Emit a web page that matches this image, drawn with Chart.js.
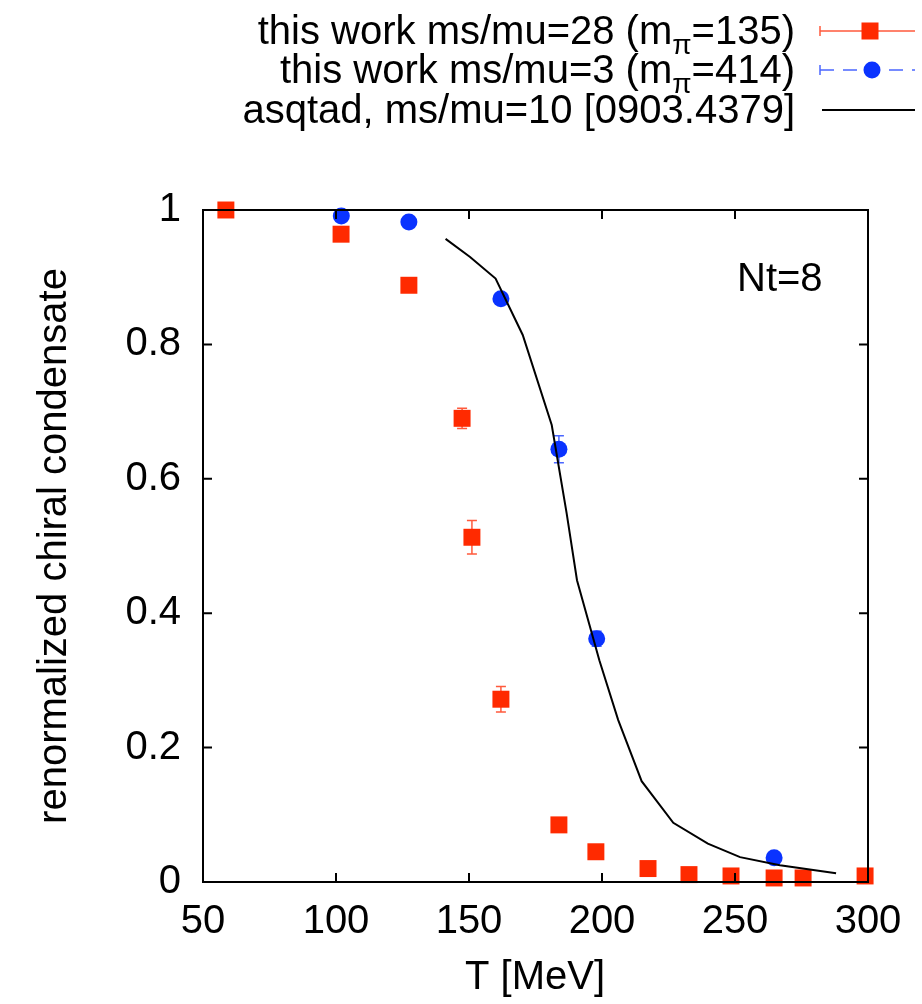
<!DOCTYPE html>
<html>
<head>
<meta charset="utf-8">
<script src="https://cdn.jsdelivr.net/npm/chart.js@4.4.1/dist/chart.umd.min.js"></script>
<style>
  html, body { margin: 0; padding: 0; background: #fff; }
  canvas { display: block; }
</style>
</head>
<body>
<canvas id="c" width="922" height="1004"></canvas>
<script>
// ms/mu=28 (m_pi=135)
const redT = [58.6, 101.9, 127.4, 147.4, 151.1, 162.0, 183.8, 197.7, 217.3, 232.7, 248.5, 264.7, 275.6, 298.9];
const redY = [1.0, 0.964, 0.888, 0.690, 0.513, 0.272, 0.085, 0.045, 0.020, 0.011, 0.009, 0.006, 0.006, 0.009];
const redErr = [0.002, 0.004, 0.004, 0.015, 0.025, 0.019, 0.004, 0.004, 0.003, 0.002, 0.002, 0.002, 0.002, 0.002];

// ms/mu=3 (m_pi=414)
const blueT = [102.0, 127.4, 162.0, 183.8, 198.0, 264.7];
const blueY = [0.991, 0.982, 0.868, 0.644, 0.362, 0.036];
const blueErr = [0.003, 0.003, 0.005, 0.020, 0.011, 0.003];

// asqtad, ms/mu=10
const asqtadT = [141.2, 150.4, 160.0, 170.2, 181.1, 186.7, 190.6, 199.0, 206.1, 214.9, 226.8, 239.8, 251.9, 266.9, 288.0];
const asqtadY = [0.957, 0.930, 0.898, 0.814, 0.680, 0.549, 0.449, 0.330, 0.241, 0.150, 0.088, 0.057, 0.037, 0.025, 0.013];

const legendLabels = [
  [['this work ms/mu=28 (m', false], ['π', true], ['=135)', false]],
  [['this work ms/mu=3 (m', false], ['π', true], ['=414)', false]],
  [['asqtad, ms/mu=10 [0903.4379]', false]]
];

const RED = '#ff2a00';
const BLUE = '#0a33ff';
const FONT = '"Liberation Sans", Arial, Helvetica, sans-serif';

Chart.defaults.font.family = FONT;
Chart.defaults.color = '#000';

function pts(xs, ys) {
  return xs.map((x, i) => ({ x: x, y: ys[i] }));
}

// text with optional subscript parts, right aligned at x
function drawRich(ctx, parts, xRight, y, size) {
  const subSize = size * 0.7;
  let total = 0;
  parts.forEach(p => {
    ctx.font = (p[1] ? subSize : size) + 'px ' + FONT;
    total += ctx.measureText(p[0]).width;
  });
  let x = xRight - total;
  ctx.textAlign = 'left';
  ctx.textBaseline = 'alphabetic';
  parts.forEach(p => {
    ctx.font = (p[1] ? subSize : size) + 'px ' + FONT;
    ctx.fillText(p[0], x, p[1] ? y + 10 : y);
    x += ctx.measureText(p[0]).width;
  });
}

const decor = {
  id: 'decor',
  beforeDatasetsDraw(chart) {
    const ctx = chart.ctx;
    const xs = chart.scales.x, ys = chart.scales.y;
    ctx.save();
    ctx.lineWidth = 1.5;
    const sets = [[redT, redY, redErr, '#ff5a3c'], [blueT, blueY, blueErr, '#4a66ff']];
    sets.forEach(s => {
      ctx.strokeStyle = s[3];
      s[0].forEach((t, i) => {
        const px = xs.getPixelForValue(t);
        const y1 = ys.getPixelForValue(s[1][i] + s[2][i]);
        const y2 = ys.getPixelForValue(s[1][i] - s[2][i]);
        ctx.beginPath();
        ctx.moveTo(px, y1); ctx.lineTo(px, y2);
        ctx.moveTo(px - 5, y1); ctx.lineTo(px + 5, y1);
        ctx.moveTo(px - 5, y2); ctx.lineTo(px + 5, y2);
        ctx.stroke();
      });
    });
    ctx.restore();
  },
  afterDraw(chart) {
    const ctx = chart.ctx;
    const a = chart.chartArea;
    const xs = chart.scales.x, ys = chart.scales.y;
    ctx.save();

    // frame and inward ticks
    ctx.strokeStyle = '#000';
    ctx.lineWidth = 2;
    ctx.strokeRect(a.left, a.top, a.right - a.left, a.bottom - a.top);
    ctx.beginPath();
    xs.ticks.forEach(t => {
      const px = xs.getPixelForValue(t.value);
      ctx.moveTo(px, a.bottom); ctx.lineTo(px, a.bottom - 9);
      ctx.moveTo(px, a.top); ctx.lineTo(px, a.top + 9);
    });
    ys.ticks.forEach(t => {
      const py = ys.getPixelForValue(t.value);
      ctx.moveTo(a.left, py); ctx.lineTo(a.left + 9, py);
      ctx.moveTo(a.right, py); ctx.lineTo(a.right - 9, py);
    });
    ctx.stroke();

    // axis titles
    ctx.fillStyle = '#000';
    ctx.font = '40px ' + FONT;
    ctx.textAlign = 'center';
    ctx.textBaseline = 'middle';
    ctx.fillText('T [MeV]', 535, 978);
    ctx.save();
    ctx.translate(55, 546);
    ctx.rotate(-Math.PI / 2);
    ctx.fillText('renormalized chiral condensate', 0, 0);
    ctx.restore();

    ctx.textAlign = 'left';
    ctx.fillText('Nt=8', 737, 280);

    // legend
    const rows = [31, 70, 110];
    rows.forEach((ry, i) => drawRich(ctx, legendLabels[i], 795, ry + 13, 40));

    // row 1: red errorbar sample
    ctx.lineWidth = 1.5;
    ctx.strokeStyle = '#ff5a3c';
    ctx.beginPath();
    ctx.moveTo(820, rows[0]); ctx.lineTo(915, rows[0]);
    ctx.moveTo(820, rows[0] - 5); ctx.lineTo(820, rows[0] + 5);
    ctx.stroke();
    ctx.fillStyle = RED;
    ctx.fillRect(870 - 8.5, rows[0] - 8.5, 17, 17);

    // row 2: blue dashed sample
    ctx.strokeStyle = '#4a66ff';
    ctx.beginPath();
    ctx.moveTo(820, rows[1] - 5); ctx.lineTo(820, rows[1] + 5);
    ctx.stroke();
    ctx.setLineDash([14, 9]);
    ctx.beginPath();
    ctx.moveTo(820, rows[1]); ctx.lineTo(915, rows[1]);
    ctx.stroke();
    ctx.setLineDash([]);
    ctx.fillStyle = BLUE;
    ctx.beginPath();
    ctx.arc(872, rows[1], 8.5, 0, Math.PI * 2);
    ctx.fill();

    // row 3: black line
    ctx.strokeStyle = '#000';
    ctx.lineWidth = 2;
    ctx.beginPath();
    ctx.moveTo(822, rows[2]); ctx.lineTo(915, rows[2]);
    ctx.stroke();

    ctx.restore();
  }
};

new Chart(document.getElementById('c'), {
  type: 'scatter',
  data: {
    datasets: [
      {
        label: 'asqtad, ms/mu=10 [0903.4379]',
        data: pts(asqtadT, asqtadY),
        showLine: true,
        borderColor: '#000',
        borderWidth: 2,
        pointRadius: 0,
        tension: 0,
        clip: false,
        order: 0
      },
      {
        label: 'this work ms/mu=3',
        data: pts(blueT, blueY),
        backgroundColor: BLUE,
        borderWidth: 0,
        pointStyle: 'circle',
        pointRadius: 8.5,
        clip: false,
        order: 1
      },
      {
        label: 'this work ms/mu=28',
        data: pts(redT, redY),
        backgroundColor: RED,
        borderWidth: 0,
        pointStyle: 'rect',
        pointRadius: 12,
        clip: false,
        order: 2
      }
    ]
  },
  options: {
    responsive: false,
    animation: false,
    devicePixelRatio: 1,
    layout: { padding: { top: 210, right: 54, left: 0, bottom: 0 } },
    plugins: { legend: { display: false }, tooltip: { enabled: false } },
    scales: {
      x: {
        type: 'linear',
        min: 50, max: 300,
        grid: { display: false, drawTicks: false },
        border: { display: false },
        ticks: { stepSize: 50, padding: 16, font: { size: 40 }, color: '#000', maxRotation: 0 },
        afterFit(s) { s.height = 122; }
      },
      y: {
        type: 'linear',
        min: 0, max: 1,
        grid: { display: false, drawTicks: false },
        border: { display: false },
        ticks: {
          stepSize: 0.2, padding: 22, font: { size: 40 }, color: '#000',
          callback: v => String(Number(v.toFixed(1)))
        },
        afterFit(s) { s.width = 203; }
      }
    }
  },
  plugins: [decor]
});
</script>
</body>
</html>
